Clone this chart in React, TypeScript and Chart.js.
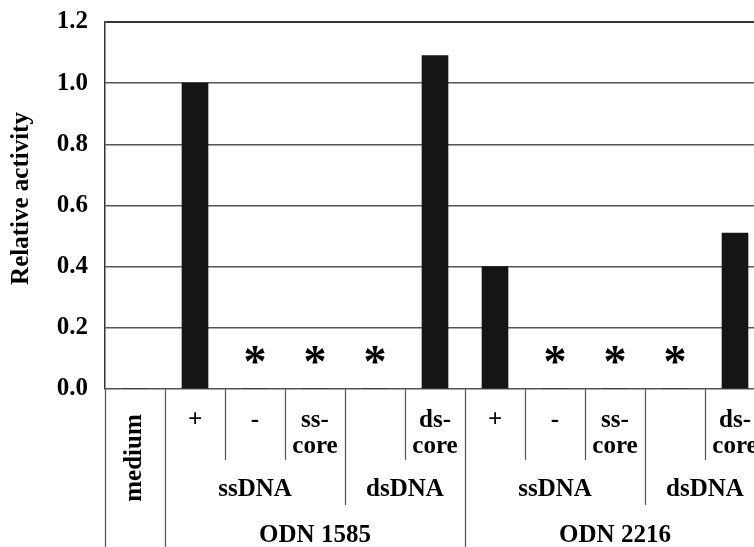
import React, { useEffect, useRef } from 'react';
import { Chart, registerables } from 'chart.js';

Chart.register(...registerables);

// ---- data ----
const categories = ['medium', '+', '-', 'ss-\ncore', '', 'ds-\ncore', '+', '-', 'ss-\ncore', '', 'ds-\ncore'];
const relativeActivity = [0, 1.0, 0, 0, 0, 1.09, 0.4, 0, 0, 0, 0.51];
const notDetected = [false, false, true, true, true, false, false, true, true, true, false];
const markerLevel = 0.11;
const yTicks = [0, 0.2, 0.4, 0.6, 0.8, 1.0, 1.2];
const yTitle = 'Relative activity';
const strandGroups = [
  { label: 'ssDNA', from: 1, to: 3 },
  { label: 'dsDNA', from: 4, to: 5 },
  { label: 'ssDNA', from: 6, to: 8 },
  { label: 'dsDNA', from: 9, to: 10 },
];
const odnGroups = [
  { label: 'ODN 1585', from: 1, to: 5 },
  { label: 'ODN 2216', from: 6, to: 10 },
];
const rotatedIndex = 0; // 'medium' spans all rows, written vertically

const FONT = "'Liberation Serif', 'Times New Roman', serif";
const fontPx = 25;

const tablePlugin = {
  id: 'categoryTable',
  afterDatasetsDraw(chart: any) {
    const ctx = chart.ctx as CanvasRenderingContext2D;
    const xs = chart.scales.x;
    const ys = chart.scales.y;
    // asterisks for non-detected samples
    ctx.save();
    ctx.fillStyle = '#000';
    ctx.font = `bold 46px ${FONT}`;
    ctx.textAlign = 'center';
    ctx.textBaseline = 'alphabetic';
    const m = ctx.measureText('*');
    const yc = ys.getPixelForValue(markerLevel);
    notDetected.forEach((nd, i) => {
      if (!nd) return;
      const x = xs.getPixelForValue(i);
      const base = yc + (m.actualBoundingBoxAscent - m.actualBoundingBoxDescent) / 2;
      ctx.fillText('*', x, base);
    });
    ctx.restore();
  },
  afterDraw(chart: any) {
    const ctx = chart.ctx as CanvasRenderingContext2D;
    const xs = chart.scales.x;
    const area = chart.chartArea;
    const w = xs.getPixelForValue(1) - xs.getPixelForValue(0);
    const edge = (i: number) => xs.getPixelForValue(0) - w / 2 + i * w;
    const center = (a: number, b: number) => (edge(a) + edge(b + 1)) / 2;
    const y0 = area.bottom;
    const row1 = y0 + 71;
    const row2 = y0 + 116;
    const bottom = chart.height + 20;

    ctx.save();
    // vertical separators
    ctx.strokeStyle = '#555';
    ctx.lineWidth = 1.2;
    for (let i = 0; i <= categories.length; i++) {
      let end = row1;
      const isOdn = i === 0 || i === rotatedIndex + 1 || odnGroups.some(g => g.from === i || g.to + 1 === i);
      const isStrand = strandGroups.some(g => g.from === i || g.to + 1 === i);
      if (isOdn) end = bottom;
      else if (isStrand) end = row2;
      const x = Math.round(edge(i)) + 0.5;
      ctx.beginPath();
      ctx.moveTo(x, y0);
      ctx.lineTo(x, end);
      ctx.stroke();
    }

    ctx.fillStyle = '#000';
    ctx.font = `bold ${fontPx}px ${FONT}`;
    ctx.textAlign = 'center';
    ctx.textBaseline = 'middle';

    // row 1 labels
    categories.forEach((c, i) => {
      if (i === rotatedIndex || !c) return;
      const lines = c.split('\n');
      lines.forEach((ln, k) => {
        ctx.fillText(ln, xs.getPixelForValue(i), y0 + 32 + k * 26);
      });
    });

    // rotated 'medium'
    ctx.save();
    ctx.translate(xs.getPixelForValue(rotatedIndex), y0 + 69);
    ctx.rotate(-Math.PI / 2);
    ctx.fillText(categories[rotatedIndex], 0, 0);
    ctx.restore();

    // row 2
    strandGroups.forEach(g => {
      ctx.fillText(g.label, center(g.from, g.to), y0 + 101);
    });
    // row 3
    odnGroups.forEach(g => {
      ctx.fillText(g.label, center(g.from, g.to), y0 + 147);
    });

    // y-axis title
    ctx.save();
    ctx.translate(22, (area.top + area.bottom) / 2 - 7);
    ctx.rotate(-Math.PI / 2);
    ctx.fillText(yTitle, 0, 0);
    ctx.restore();
    ctx.restore();
  },
};

export default function App() {
  const ref = useRef<HTMLCanvasElement>(null);
  useEffect(() => {
    document.body.style.margin = '0';
    const chart = new Chart(ref.current as HTMLCanvasElement, {
      type: 'bar',
      data: {
        labels: categories,
        datasets: [
          {
            data: relativeActivity,
            backgroundColor: '#151515',
            borderWidth: 0,
            barThickness: 26,
          },
        ],
      },
      options: {
        animation: false,
        responsive: false,
        devicePixelRatio: 1,
        layout: { padding: { left: 0, top: 22, right: 10, bottom: 158 } },
        plugins: { legend: { display: false }, tooltip: { enabled: false } },
        scales: {
          x: { display: false },
          y: {
            min: 0,
            max: 1.2,
            afterFit: (s: any) => {
              s.width = 105;
              s.paddingTop = 0;
              s.paddingBottom = 0;
            },
            afterBuildTicks: (s: any) => {
              s.ticks = yTicks.map(v => ({ value: v }));
            },
            ticks: {
              padding: 17,
              color: '#000',
              font: { family: FONT, size: fontPx, weight: 'bold' },
              callback: (v: any) => Number(v).toFixed(1),
            },
            grid: {
              drawTicks: false,
              color: (c: any) => (c.tick && c.tick.value === 1.2 ? '#333' : '#555'),
              lineWidth: (c: any) => (c.tick && c.tick.value === 1.2 ? 2 : 1.5),
            },
            border: { color: '#333', width: 1.5 },
            title: { display: false },
          },
        },
      },
      plugins: [tablePlugin],
    });
    return () => chart.destroy();
  }, []);
  return (
    <div style={{ position: 'absolute', left: 0, top: 0, width: 754, height: 547, overflow: 'hidden', background: '#fff' }}>
      <canvas ref={ref} width={775} height={547} style={{ width: 775, height: 547, display: 'block' }} />
    </div>
  );
}
